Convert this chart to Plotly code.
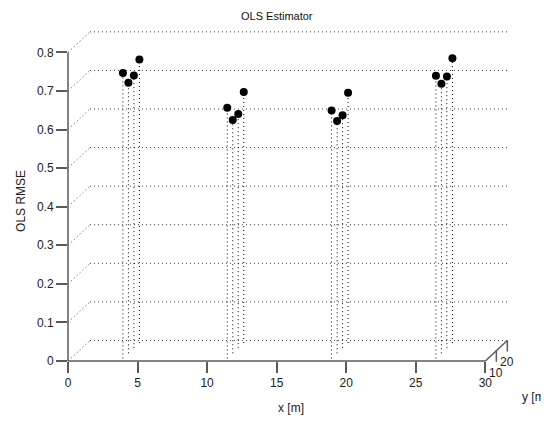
import plotly.graph_objects as go

# ---------------- data ----------------
title_text = "OLS Estimator"
x_label = "x [m]"
y_label = "y [m]"
z_label = "OLS RMSE"

x_pos = [3.75, 11.25, 18.75, 26.25]          # sensor-cluster x positions
y_pos = [2.5, 7.5, 12.5, 17.5]               # y positions within each cluster
rmse_x1 = [0.740, 0.701, 0.707, 0.735]
rmse_x2 = [0.650, 0.605, 0.607, 0.651]
rmse_x3 = [0.643, 0.602, 0.604, 0.649]
rmse_x4 = [0.733, 0.699, 0.704, 0.738]
rmse_all = [rmse_x1, rmse_x2, rmse_x3, rmse_x4]

x_ticks = [0, 5, 10, 15, 20, 25, 30]
z_ticks = [0, 0.1, 0.2, 0.3, 0.4, 0.5, 0.6, 0.7, 0.8]
y_ticks = [10, 20]
x_lim = [0, 30]
y_lim = [0, 20]
z_lim = [0, 0.8]

# ---------------- oblique projection (view) ----------------
DX = 0.079     # screen-x shift per unit of depth (y)
DZ = 0.00266   # screen-z shift per unit of depth (y)


def proj(x, y, z):
    return x + DX * y, z + DZ * y


XR = [0, 31.7]
ZR = [0, 0.858]
L, R, T, B = 60, 40, 22, 60
W, H = 541, 413
PH = H - T - B


def fz(z):
    return (z - ZR[0]) / (ZR[1] - ZR[0])


def fx(x):
    return (x - XR[0]) / (XR[1] - XR[0])


FONT = "Liberation Sans, Arial, sans-serif"
AXC = "#5a5a5a"
GRIDC = "#3a3a3a"

fig = go.Figure()

# grid lines: back wall (y = y_max) and left wall (x = 0)
gx, gz = [], []
for z in z_ticks:
    for a, b in ((proj(x_lim[0], y_lim[1], z), proj(x_lim[1], y_lim[1], z)),
                 (proj(x_lim[0], y_lim[0], z), proj(x_lim[0], y_lim[1], z))):
        gx += [a[0], b[0], None]
        gz += [a[1], b[1], None]
fig.add_trace(go.Scatter(x=gx, y=gz, mode="lines", hoverinfo="skip",
                         line=dict(color=GRIDC, width=1, dash="1px,3px"),
                         showlegend=False))

# stems
sx, sz, px, pz = [], [], [], []
for xi, vals in zip(x_pos, rmse_all):
    for yi, v in zip(y_pos, vals):
        b = proj(xi, yi, 0)
        t = proj(xi, yi, v)
        sx += [b[0], t[0], None]
        sz += [b[1], t[1], None]
        px.append(t[0])
        pz.append(t[1])
fig.add_trace(go.Scatter(x=sx, y=sz, mode="lines", hoverinfo="skip",
                         line=dict(color="black", width=1, dash="1px,3px"),
                         showlegend=False))
fig.add_trace(go.Scatter(x=px, y=pz, mode="markers",
                         marker=dict(color="black", size=8, symbol="circle"),
                         showlegend=False, cliponaxis=False))

shapes = []
# x axis line (front bottom)
shapes.append(dict(type="line", xref="x domain", yref="y domain",
                   x0=fx(x_lim[0]), x1=fx(x_lim[1]), y0=fz(0), y1=fz(0),
                   line=dict(color=AXC, width=1.5)))
# z axis line (front left)
shapes.append(dict(type="line", xref="x domain", yref="y domain",
                   x0=fx(0), x1=fx(0), y0=fz(z_lim[0]), y1=fz(z_lim[1]),
                   line=dict(color=AXC, width=1.5)))
# y (depth) axis line at x = x_max
a = proj(x_lim[1], y_lim[0], 0)
b = proj(x_lim[1], y_lim[1], 0)
shapes.append(dict(type="line", xref="x domain", yref="y domain",
                   x0=fx(a[0]), x1=fx(b[0]), y0=fz(a[1]), y1=fz(b[1]),
                   line=dict(color=AXC, width=1.5)))
annotations = []
for yt in y_ticks:
    p = proj(x_lim[1], yt, 0)
    shapes.append(dict(type="line", xref="x domain", yref="y domain",
                       x0=fx(p[0]), x1=fx(p[0]), y0=fz(p[1]),
                       y1=fz(p[1]) - 11 / PH,
                       line=dict(color=AXC, width=1.5)))
    annotations.append(dict(x=p[0], y=p[1], xref="x", yref="y", text=str(yt),
                            showarrow=False, yshift=-22, xanchor="center",
                            yanchor="middle",
                            font=dict(family=FONT, size=12, color="#222")))

pm = proj(x_lim[1], (y_lim[0] + y_lim[1]) / 2, 0)
annotations.append(dict(x=pm[0], y=pm[1], xref="x", yref="y", text=y_label,
                        showarrow=False, xshift=24, yshift=-46,
                        xanchor="left", yanchor="middle",
                        font=dict(family=FONT, size=12, color="#222")))
annotations.append(dict(x=(x_lim[0] + x_lim[1]) / 2, y=1, xref="x", yref="paper",
                        text=title_text, showarrow=False, yshift=14,
                        xanchor="center", yanchor="middle",
                        font=dict(family=FONT, size=11, color="#111")))
annotations.append(dict(x=(x_lim[0] + x_lim[1]) / 2, y=0, xref="x", yref="paper",
                        text=x_label, showarrow=False, yshift=-47, xshift=14,
                        xanchor="center", yanchor="middle",
                        font=dict(family=FONT, size=12, color="#222")))
annotations.append(dict(x=-0.1066, y=0.415, xref="paper", yref="y",
                        text=z_label, showarrow=False, textangle=-90,
                        xanchor="center", yanchor="middle",
                        font=dict(family=FONT, size=12, color="#222")))

fig.update_layout(
    width=W, height=H,
    margin=dict(l=L, r=R, t=T, b=B),
    paper_bgcolor="white", plot_bgcolor="white",
    shapes=shapes, annotations=annotations,
    font=dict(family=FONT, size=12, color="#222"),
    xaxis=dict(range=XR, tickvals=x_ticks, ticktext=[str(v) for v in x_ticks],
               ticks="outside", ticklen=11, tickwidth=1.5, tickcolor=AXC,
               showgrid=False, zeroline=False, showline=False,
               tickfont=dict(family=FONT, size=12, color="#222")),
    yaxis=dict(range=ZR, tickvals=z_ticks,
               ticktext=["0"] + [f"{v:.1f}" for v in z_ticks[1:]],
               ticks="outside", ticklen=11, tickwidth=1.5, tickcolor=AXC,
               showgrid=False, zeroline=False, showline=False,
               tickfont=dict(family=FONT, size=12, color="#222")),
)

fig.write_html("out.html")
